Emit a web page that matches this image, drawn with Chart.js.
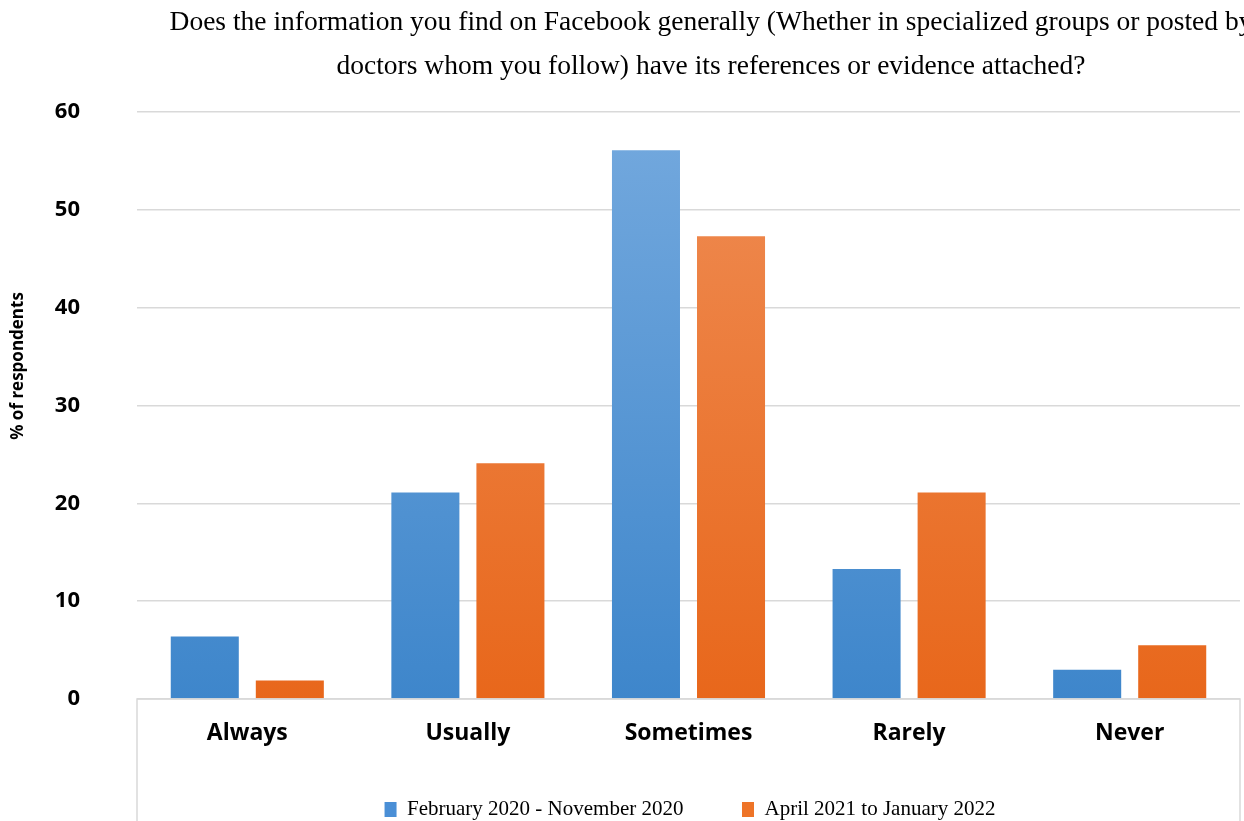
<!DOCTYPE html>
<html>
<head>
<meta charset="utf-8">
<script src="https://cdn.jsdelivr.net/npm/chart.js@4"></script>
<style>
  html, body { margin: 0; padding: 0; background: #fff; overflow: hidden; }
  #wrap { width: 1244px; height: 821px; overflow: hidden; }
</style>
</head>
<body>
<div id="wrap"><canvas id="chart" width="1380" height="821"></canvas></div>
<script>
const categories = ["Always", "Usually", "Sometimes", "Rarely", "Never"];
const period1 = [6.4, 21.1, 56.1, 13.3, 3.0];
const period2 = [1.9, 24.1, 47.3, 21.1, 5.5];
const seriesNames = ["February 2020 - November 2020", "April 2021 to January 2022"];
const titleLines = [
  "Does the information you find on Facebook generally (Whether in specialized groups or posted by",
  "doctors whom you follow) have its references or evidence attached?"
];
const yTitle = "% of respondents";

function grad(ctx, top, bottom) {
  const chart = ctx.chart;
  const area = chart.chartArea;
  if (!area) return bottom;
  const g = chart.ctx.createLinearGradient(0, area.top, 0, area.bottom);
  g.addColorStop(0, top);
  g.addColorStop(1, bottom);
  return g;
}

// title (runs off the right edge like the source), y title, frame under the plot
const extras = {
  id: 'extras',
  afterDraw(chart) {
    const { ctx, chartArea } = chart;
    ctx.save();
    ctx.fillStyle = '#000';
    ctx.textAlign = 'center';
    ctx.textBaseline = 'middle';
    ctx.font = '27.5px "Liberation Serif"';
    ctx.fillText(titleLines[0], 711, 23);
    ctx.fillText(titleLines[1], 711, 67);

    ctx.translate(18, 366);
    ctx.rotate(-Math.PI / 2);
    ctx.font = 'bold 17px "Open Sans"';
    ctx.fillText(yTitle, 0, 0);
    ctx.restore();

    ctx.save();
    ctx.strokeStyle = '#d9d9d9';
    ctx.lineWidth = 1.5;
    ctx.beginPath();
    ctx.moveTo(chartArea.left, chart.height);
    ctx.lineTo(chartArea.left, chartArea.bottom);
    ctx.lineTo(chartArea.right, chartArea.bottom);
    ctx.lineTo(chartArea.right, chart.height);
    ctx.stroke();
    ctx.restore();
  }
};

const config = {
  type: 'bar',
  data: {
    labels: categories,
    datasets: [{
      label: seriesNames[0],
      data: period1,
      backgroundColor: (c) => grad(c, '#74a9de', '#3e86cb'),
      borderWidth: 0
    }, {
      label: seriesNames[1],
      data: period2,
      backgroundColor: (c) => grad(c, '#ef8d55', '#e8671b'),
      borderWidth: 0
    }]
  },
  options: {
    responsive: false,
    animation: false,
    categoryPercentage: 0.771,
    barPercentage: 0.8,
    layout: { padding: { left: 0, right: 0, top: 112, bottom: -9 } },
    scales: {
      x: {
        grid: { display: false },
        border: { display: false },
        afterFit(s) { s.height = 94; },
        ticks: {
          color: '#000',
          padding: 13,
          font: { family: 'Open Sans', size: 23, weight: 'bold' }
        }
      },
      y: {
        min: 0,
        max: 60,
        afterFit(s) { s.width = 137; },
        ticks: {
          stepSize: 10,
          color: '#000',
          padding: 57,
          font: { family: 'Open Sans', size: 22, weight: 'bold' }
        },
        grid: { color: '#d9d9d9', lineWidth: 1.5, drawTicks: false },
        border: { display: false }
      },
      yRight: {
        position: 'right',
        min: 0,
        max: 60,
        afterFit(s) { s.width = 140; },
        grid: { display: false },
        border: { display: false },
        ticks: { display: false }
      }
    },
    plugins: {
      title: { display: false },
      legend: {
        position: 'bottom',
        labels: {
          color: '#000',
          boxWidth: 12,
          boxHeight: 15,
          padding: 6,
          font: { family: 'Liberation Serif', size: 21 },
          generateLabels(chart) {
            const cols = ['#4a8fd6', '#ee7428'];
            return chart.data.datasets.map((ds, i) => ({
              // trailing spaces keep the wide gap between the two entries
              text: i === 0 ? ds.label + '          ' : ds.label,
              fillStyle: cols[i], strokeStyle: cols[i], lineWidth: 0,
              datasetIndex: i, fontColor: '#000'
            }));
          }
        }
      },
      tooltip: { enabled: false }
    }
  },
  plugins: [extras]
};

var chart = new Chart(document.getElementById('chart'), config);
</script>
</body>
</html>
